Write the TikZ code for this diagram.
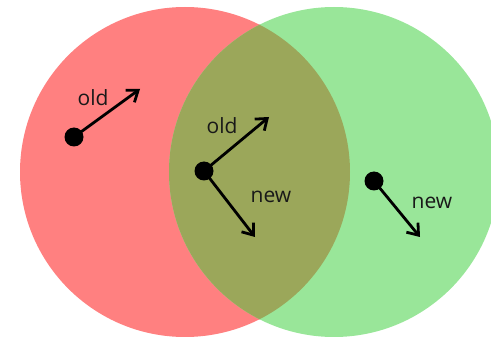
\documentclass[tikz,border=0pt]{standalone}
\usepackage{fontspec}
\setmainfont{Open Sans}
\usetikzlibrary{arrows.meta}
\definecolor{redset}{RGB}{255,128,128}
\definecolor{greenset}{RGB}{153,230,153}
\definecolor{overlapset}{RGB}{155,167,90}
\definecolor{labelcol}{RGB}{25,25,25}
\tikzset{
  dotnode/.style={circle,fill=black,inner sep=0pt,minimum size=19pt},
  vec/.style={line width=2.8pt,-{Straight Barb[length=10pt,width=15pt,line width=2.8pt]}},
  lbl/.style={font=\fontsize{21pt}{24pt}\selectfont,text=labelcol,inner sep=0pt}
}
\begin{document}
\begin{tikzpicture}[x=1pt,y=-1pt]
\useasboundingbox (0,0) rectangle (491,337);
\begin{scope}
  \clip (0,0) rectangle (491,337);
  \fill[redset] (185,172) circle[radius=165];
  \fill[greenset] (334,172) circle[radius=165];
  \begin{scope}
    \clip (185,172) circle[radius=165];
    \fill[overlapset] (334,172) circle[radius=165];
  \end{scope}
\end{scope}
% left point
\node[dotnode] (p1) at (74,137) {};
\coordinate (p1old) at (140,89);
\draw[vec] (p1.center) -- (p1old);
\node[lbl] (l1) at (93,98) {old};
% middle point
\node[dotnode] (p2) at (204,171) {};
\coordinate (p2old) at (269,117);
\coordinate (p2new) at (255,237);
\draw[vec] (p2.center) -- (p2old);
\draw[vec] (p2.center) -- (p2new);
\node[lbl] (l2) at (222,126) {old};
\node[lbl] (l3) at (271,197) {new};
% right point
\node[dotnode] (p3) at (374,181) {};
\coordinate (p3new) at (420,237);
\draw[vec] (p3.center) -- (p3new);
\node[lbl] (l4) at (432,203) {new};
\end{tikzpicture}
\end{document}
